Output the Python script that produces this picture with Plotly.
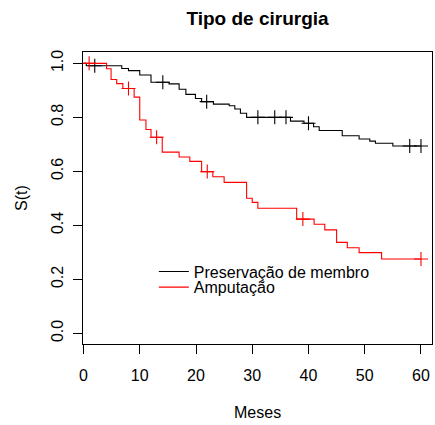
import numpy as np
import plotly.graph_objects as go

# Kaplan-Meier estimates by surgery type (step times in months, survival after each step)
preserv_t = [0, 0.5, 6.8, 8.0, 10.0, 12.0, 15.2, 17.0, 18.2, 19.9, 21.0, 23.1, 25.9, 26.9,
             27.9, 29.0, 36.8, 39.2, 40.9, 41.9, 46.0, 49.0, 50.9, 51.9, 55.0, 60.0]
preserv_s = [1.0, 0.991, 0.981, 0.973, 0.957, 0.930, 0.924, 0.904, 0.885, 0.870, 0.858, 0.849,
             0.843, 0.831, 0.815, 0.800, 0.786, 0.778, 0.765, 0.751, 0.732, 0.720, 0.712,
             0.704, 0.694, 0.694]
preserv_cens = [2.0, 14.1, 21.9, 31.0, 34.0, 36.0, 40.0, 58.0, 60.0]

amput_t = [0, 4.1, 4.9, 5.9, 7.0, 9.0, 10.0, 11.1, 12.0, 14.0, 17.0, 18.9, 21.0, 23.0, 25.0,
           29.0, 30.0, 31.0, 37.9, 41.0, 42.9, 45.0, 46.9, 49.0, 53.0, 60.0]
amput_s = [1.0, 0.980, 0.940, 0.925, 0.907, 0.875, 0.790, 0.755, 0.726, 0.671, 0.653, 0.637,
           0.599, 0.580, 0.559, 0.500, 0.485, 0.463, 0.423, 0.404, 0.383, 0.337, 0.317,
           0.299, 0.275, 0.275]
amput_cens = [1.0, 8.0, 13.0, 22.0, 39.0, 60.0]

x_ticks = [0, 10, 20, 30, 40, 50, 60]
y_ticks = [0.0, 0.2, 0.4, 0.6, 0.8, 1.0]


def surv_at(times, surv, t):
    """Value of the step function at time t."""
    idx = np.searchsorted(np.asarray(times), np.asarray(t), side="right") - 1
    return list(np.asarray(surv)[idx])


FONT = "Liberation Sans, Arial, Helvetica, sans-serif"

fig = go.Figure()

groups = [
    ("Preservação de membro", preserv_t, preserv_s, preserv_cens, "black", "legend"),
    ("Amputação", amput_t, amput_s, amput_cens, "#ff0000", "legend2"),
]
for name, t, s, cens, color, leg in groups:
    fig.add_trace(go.Scatter(
        x=t, y=s, mode="lines", name=name, legend=leg,
        line=dict(color=color, width=1.1, shape="hv"),
    ))
    fig.add_trace(go.Scatter(
        x=cens, y=surv_at(t, s, cens), mode="markers", showlegend=False,
        marker=dict(symbol="cross-thin", size=10, line=dict(color=color, width=1.1)),
    ))

axis_common = dict(
    showline=True, linecolor="black", linewidth=1, mirror=True,
    ticks="outside", ticklen=9, tickcolor="black", tickwidth=1,
    showgrid=False, zeroline=False,
    tickfont=dict(family=FONT, size=16, color="black"),
)

fig.update_layout(
    width=435, height=425,
    margin=dict(l=83, r=3, t=52, b=81),
    paper_bgcolor="white", plot_bgcolor="white",
    font=dict(family=FONT, size=16, color="black"),
    title=dict(text="Tipo de cirurgia", x=0.592, xanchor="center",
               y=1 - 18 / 425, yref="container", yanchor="middle",
               font=dict(family=FONT, size=19, color="black", weight="bold")),
    xaxis=dict(range=[-0.09, 61.96], tickvals=x_ticks, ticklabelstandoff=8, **axis_common),
    yaxis=dict(range=[-0.0396, 1.042], tickvals=y_ticks, tickformat=".1f",
               tickangle=-90, ticklabelstandoff=4, **axis_common),
    legend=dict(x=0.203, y=0.248, xanchor="left", yanchor="middle",
                bgcolor="rgba(0,0,0,0)", font=dict(family=FONT, size=16)),
    legend2=dict(x=0.203, y=0.1945, xanchor="left", yanchor="middle",
                 bgcolor="rgba(0,0,0,0)", font=dict(family=FONT, size=16)),
    annotations=[
        dict(text="Meses", xref="paper", yref="paper", x=0.5, y=-0.233,
             showarrow=False, xanchor="center", yanchor="middle",
             font=dict(family=FONT, size=16)),
        dict(text="S(t)", xref="paper", yref="paper", x=-0.178, y=0.5,
             showarrow=False, textangle=-90, xanchor="center", yanchor="middle",
             font=dict(family=FONT, size=16)),
    ],
)

fig.write_html("out.html")
